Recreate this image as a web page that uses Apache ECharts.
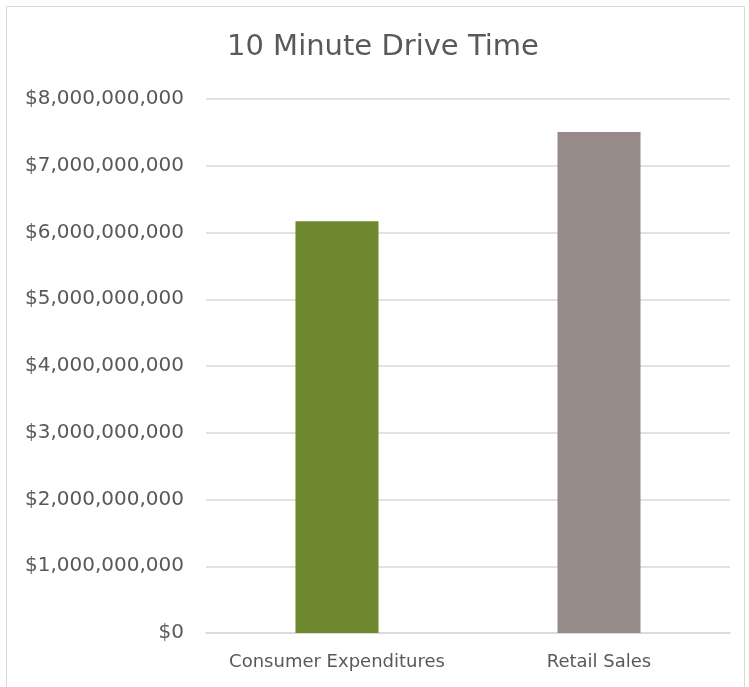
<!DOCTYPE html>
<html><head><meta charset="utf-8">
<script src="https://cdn.jsdelivr.net/npm/echarts@6/dist/echarts.min.js"></script>
<style>html,body{margin:0;padding:0;background:#fff}#c{width:749px;height:687px}</style>
</head><body><div id="c"></div>
<script>
const categories = ['Consumer Expenditures', 'Retail Sales'];
const values = [6170000000, 7505000000];
const barColors = ['#6f892e', '#968b88'];
const yTicks = [0, 1000000000, 2000000000, 3000000000, 4000000000, 5000000000, 6000000000, 7000000000, 8000000000];

const chart = echarts.init(document.getElementById('c'));
const font = '"DejaVu Sans", sans-serif';
chart.setOption({
  animation: false,
  graphic: [{type: 'rect', shape: {x: 6.5, y: 6.5, width: 738, height: 700}, style: {fill: 'none', stroke: '#d9d9d9', lineWidth: 1}}],
  title: {text: '10 Minute Drive Time', left: 222, top: 28,
    textStyle: {fontFamily: font, fontWeight: 'normal', fontSize: 29, color: '#595959'}},
  grid: {left: 206, right: 19, top: 99, bottom: 54},
  xAxis: {type: 'category', data: categories,
    axisLine: {lineStyle: {color: '#d9d9d9', width: 1.5}}, axisTick: {show: false},
    axisLabel: {interval: 0, hideOverlap: false, fontFamily: font, fontSize: 18, color: '#595959', margin: 20}},
  yAxis: {type: 'value', min: 0, max: 8000000000, interval: 1000000000,
    axisLine: {show: false}, axisTick: {show: false},
    splitLine: {lineStyle: {color: '#d9d9d9', width: 1.5}},
    axisLabel: {fontFamily: font, fontSize: 20, color: '#595959', margin: 22,
      formatter: v => '$' + v.toLocaleString('en-US')}},
  series: [{type: 'bar', barWidth: '31.7%',
    data: values.map((v, i) => ({value: v, itemStyle: {color: barColors[i]}}))}]
});
</script></body></html>
